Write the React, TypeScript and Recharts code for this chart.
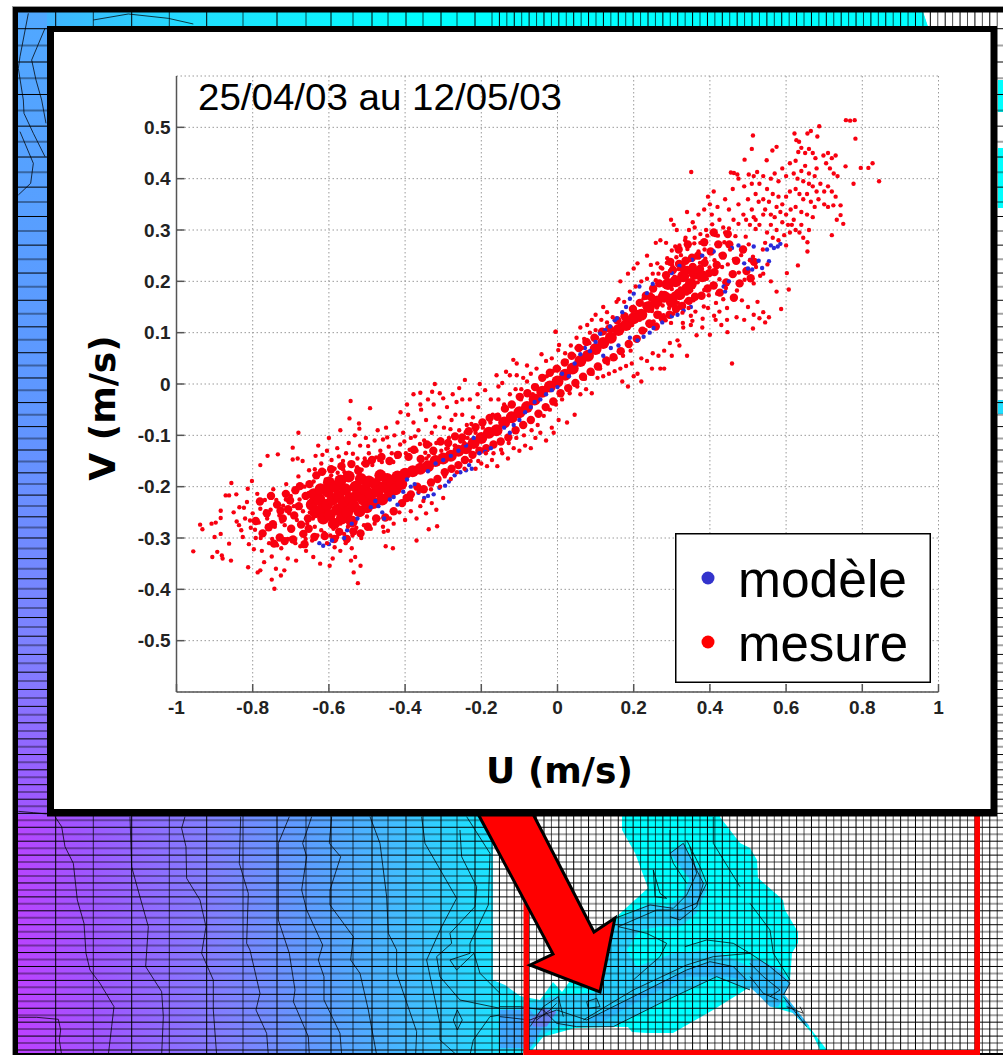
import { ScatterChart, Scatter, XAxis, YAxis, CartesianGrid, Legend } from "recharts";

type Pt = [number, number];

const uTicks = [-1, -0.8, -0.6, -0.4, -0.2, 0, 0.2, 0.4, 0.6, 0.8, 1];
const vTicks = [-0.5, -0.4, -0.3, -0.2, -0.1, 0, 0.1, 0.2, 0.3, 0.4, 0.5];

// [U, V] in m/s
const modeleRaw: Pt[] = [
  [-.625,-.31],[-.615,-.315],[-.6,-.312],[-.592,-.305],[-.56,-.3],[-.552,-.285],[-.54,-.272],[-.525,-.262],[-.49,-.24],[-.478,-.228],[-.47,-.238],[-.46,-.25],[-.455,-.262],[-.44,-.225],[-.43,-.22],[-.42,-.235],[-.405,-.21],[-.395,-.186],[-.385,-.2],[-.375,-.195],[-.365,-.212],[-.35,-.222],[-.34,-.218],[-.325,-.215],[-.31,-.202],[-.295,-.198],[-.285,-.19],[-.27,-.178],[-.255,-.172],[-.24,-.168],[-.232,-.158],[-.225,-.165],[-.205,-.135],[-.19,-.132],[-.175,-.125],[-.34,-.17],[-.32,-.155],[-.3,-.148],[-.28,-.14],[-.26,-.13],[-.24,-.12],[-.22,-.105],[-.14,-.085],[-.125,-.095],[-.115,-.08],[-.1,-.07],[-.085,-.055],[-.07,-.045],[-.06,-.035],[-.045,-.03],[-.03,-.02],[-.015,-.012],[0,-.006],[.012,.02],[.03,.015],[.045,.04],[.06,.058],[.072,.07],[.085,.064],[.1,.082],[.112,.098],[.125,.105],[.138,.112],[.15,.124],[.156,.128],[.17,.14],[.18,.15],[.19,.166],[.2,.176],[.215,.19],[.235,.177],[.25,.195],[.12,.055],[.14,.07],[.16,.075],[.19,.09],[.21,.085],[.226,.092],[.242,.1],[.252,.109],[.275,.12],[.3,.132],[.315,.135],[.331,.143],[.35,.15],[.3,.216],[.32,.23],[.353,.242],[.38,.25],[.41,.258],[.436,.19],[.44,.18],[.45,.2],[.458,.265],[.475,.27],[.49,.235],[.5,.225],[.506,.242],[.511,.223],[.515,.268],[.528,.24],[.537,.226],[.55,.262],[.555,.239],[.56,.27],[.568,.265],[.578,.268],[.585,.273],
];

// the parts of the cloud that read as solid red
const mesureCoeurRaw: Pt[] = [
  [-.645,-.235],[-.64,-.215],[-.635,-.25],[-.625,-.225],[-.622,-.205],[-.62,-.245],[-.615,-.262],[-.605,-.235],[-.603,-.21],[-.6,-.192],[-.598,-.255],[-.59,-.225],[-.587,-.272],[-.583,-.2],[-.578,-.245],[-.575,-.218],[-.57,-.188],[-.566,-.262],[-.562,-.232],[-.557,-.205],[-.552,-.25],[-.548,-.18],[-.545,-.222],[-.54,-.268],[-.535,-.238],[-.53,-.2],[-.527,-.218],[-.52,-.248],[-.516,-.185],[-.51,-.225],[-.505,-.205],[-.5,-.24],[-.495,-.19],[-.49,-.215],[-.483,-.232],[-.478,-.195],[-.472,-.21],[-.465,-.178],[-.46,-.225],[-.455,-.2],[-.447,-.185],[-.44,-.212],[-.435,-.19],[-.425,-.205],[-.42,-.18],[-.41,-.195],
  [-.4,-.175],[-.38,-.17],[-.36,-.165],[-.34,-.16],[-.32,-.15],[-.3,-.145],[-.28,-.14],[-.26,-.13],[-.24,-.125],[-.22,-.115],[-.2,-.105],[-.18,-.095],[-.16,-.09],[-.14,-.075],[-.12,-.065],[-.1,-.055],[-.08,-.045],[-.06,-.03],[-.04,-.015],[-.02,-.005],[0,.005],[.02,.018],[.04,.03],[.06,.045],[.08,.055],[.1,.068],[.12,.08],[.14,.09],[.16,.105],[.18,.115],[.2,.128],[.22,.135],[.24,.15],[.26,.16],[.28,.17],[.3,.16],[.32,.175],[.34,.185],[.36,.215],[.38,.21],[.29,.195],[.31,.2],[.33,.21],[.35,.195],
];

// dense but not solid, the dots still show through at the edges
const mesureDenseRaw: Pt[] = [
  [-.792,-.267],[-.781,-.229],[-.774,-.291],[-.763,-.252],[-.752,-.218],[-.747,-.273],[-.736,-.235],[-.729,-.299],[-.721,-.262],[-.713,-.214],[-.707,-.244],[-.699,-.282],[-.691,-.256],[-.688,-.207],[-.679,-.238],[-.673,-.274],[-.667,-.292],[-.661,-.218],[-.655,-.262],[-.651,-.195],[-.744,-.311],[-.716,-.306],[-.694,-.303],[-.676,-.199],[-.664,-.312],[-.702,-.227],[-.727,-.247],[-.758,-.279],
  [-.653,-.282],[-.638,-.298],[-.633,-.178],[-.618,-.171],[-.611,-.296],[-.594,-.166],[-.586,-.302],[-.573,-.288],[-.567,-.16],[-.553,-.302],[-.541,-.156],[-.536,-.287],[-.523,-.169],[-.517,-.291],[-.503,-.155],[-.498,-.278],[-.487,-.148],[-.476,-.262],[-.462,-.142],[-.452,-.26],[-.441,-.15],[-.43,-.248],[-.419,-.138],[-.408,-.232],[-.396,-.222],[-.391,-.142],
  [-.385,-.215],[-.377,-.128],[-.368,-.2],[-.359,-.146],[-.351,-.205],[-.343,-.118],[-.332,-.192],[-.326,-.13],[-.315,-.185],[-.307,-.112],[-.296,-.172],[-.287,-.115],[-.278,-.165],[-.269,-.102],[-.26,-.158],[-.25,-.104],[-.243,-.148],[-.233,-.092],[-.223,-.138],[-.215,-.084],[-.205,-.13],[-.197,-.075],[-.187,-.125],[-.178,-.066],[-.168,-.118],[-.158,-.064],[-.149,-.112],[-.138,-.048],[-.129,-.104],[-.12,-.04],[-.11,-.09],[-.099,-.025],[-.09,-.08],[-.079,-.018],[-.07,-.07],[-.059,-.006],[-.05,-.058],[-.04,.012],[-.031,-.045],[-.02,.022],[-.011,-.034],[-.002,.03],[.008,-.018],[.019,.042],[.028,-.008],[.037,.055],[.047,.002],[.056,.07],[.067,.014],[.076,.082],[.087,.024],[.097,.09],[.106,.034],[.117,.102],[.128,.046],[.136,.108],[.147,.052],[.157,.124],[.166,.064],[.176,.132],[.187,.078],[.198,.146],[.208,.088],
  [.216,.158],[.223,.104],[.232,.172],[.241,.118],[.251,.186],[.258,.112],[.267,.196],[.276,.128],[.285,.212],[.294,.135],[.303,.222],[.311,.146],[.319,.234],[.327,.152],[.336,.24],[.345,.162],[.353,.246],[.361,.17],[.369,.25],[.378,.172],[.386,.236],[.394,.186],[.402,.258],[.41,.192],[.418,.232],[.426,.178],[.434,.25],[.443,.198],[.451,.272],[.46,.214],[.469,.24],[.478,.196],[.487,.262],[.496,.22],[.507,.206],[.516,.238],[.398,.216],[.412,.218],[.374,.224],[.355,.228],[.34,.222],[.326,.228],[.308,.172],[.29,.168],[.275,.172],[.262,.135],[.247,.168],[.233,.152],
  [.463,.168],[.342,.272],[.318,.262],[.296,.238],[.447,.292],[.422,.272],[.385,.276],[.41,.295],
];

const mesureRaw: Pt[] = [
  // tail, far left
  [-.956,-.326],[-.938,-.274],[-.932,-.283],[-.908,-.272],[-.897,-.27],[-.884,-.261],[-.884,-.247],[-.856,-.193],[-.871,-.217],[-.862,-.217],[-.843,-.215],[-.906,-.337],[-.893,-.327],[-.881,-.334],[-.879,-.34],[-.857,-.344],[-.884,-.292],[-.9,-.298],[-.862,-.311],[-.812,-.357],[-.787,-.367],[-.78,-.363],[-.743,-.399],[-.75,-.381],[-.739,-.36],[-.726,-.373],[-.717,-.363],[-.686,-.344],[-.708,-.34],[-.77,-.347],[-.524,-.388],[-.535,-.367],[-.517,-.354],[-.542,-.344],[-.531,-.337],[-.598,-.354],[-.623,-.35],[-.59,-.34],[-.641,-.337],[-.543,-.033],[-.492,-.047],[-.546,-.067],[-.521,-.077],[-.52,-.087],[-.68,-.095],[-.734,-.137],[-.761,-.14],[-.78,-.158],[-.695,-.124],[-.695,-.147],[-.682,-.145],[-.669,-.15],[-.802,-.189],[-.813,-.204],[-.37,-.305],[-.316,-.277],[-.338,-.283],[-.432,-.32],[-.451,-.316],[-.456,-.288],[-.445,-.286],
  [-.85,-.25],[-.842,-.268],[-.835,-.24],[-.83,-.285],[-.826,-.298],[-.82,-.262],[-.815,-.23],[-.81,-.312],[-.805,-.28],[-.8,-.252],[-.797,-.322],[-.792,-.3],[-.788,-.214],[-.784,-.27],[-.78,-.243],[-.776,-.325],[-.771,-.288],[-.768,-.226],[-.762,-.262],[-.757,-.31],[-.753,-.245],[-.75,-.336],[-.746,-.205],[-.742,-.278],[-.738,-.226],[-.733,-.298],[-.73,-.256],[-.725,-.32],[-.72,-.237],[-.716,-.275],[-.712,-.195],[-.708,-.302],[-.704,-.252],[-.7,-.218],[-.697,-.285],[-.692,-.238],[-.688,-.31],[-.684,-.265],[-.68,-.18],[-.677,-.225],[-.672,-.292],[-.668,-.248],[-.664,-.2],[-.66,-.325],[-.657,-.272],[-.652,-.168],[-.648,-.228],[-.644,-.305],[-.64,-.19],[-.636,-.255],
  [-.836,-.275],[-.823,-.241],[-.807,-.266],[-.794,-.284],[-.779,-.3],[-.766,-.248],[-.749,-.302],[-.736,-.314],[-.724,-.268],[-.713,-.225],[-.699,-.301],[-.689,-.208],[-.675,-.316],[-.661,-.302],[-.653,-.212],[-.637,-.166],[-.619,-.172],[-.608,-.186],[-.594,-.178],[-.577,-.173],[-.563,-.166],[-.544,-.156],[-.526,-.162],[-.506,-.145],[-.486,-.158],[-.468,-.148],[-.444,-.152],[-.422,-.142],
  // main blob fringe
  [-.65,-.25],[-.642,-.262],[-.637,-.278],[-.63,-.295],[-.62,-.285],[-.612,-.29],[-.605,-.31],[-.596,-.295],[-.588,-.282],[-.578,-.298],[-.57,-.272],[-.56,-.292],[-.55,-.278],[-.538,-.295],[-.528,-.28],[-.515,-.3],[-.508,-.275],[-.5,-.258],[-.49,-.282],[-.48,-.272],[-.47,-.262],[-.458,-.278],[-.44,-.262],[-.43,-.272],[-.415,-.25],[-.4,-.265],[-.385,-.248],[-.37,-.262],[-.36,-.238],[-.345,-.252],[-.33,-.232],[-.318,-.245],[-.3,-.222],[-.585,-.318],[-.57,-.325],[-.556,-.31],[-.54,-.32],
  // upper scatter of the blob
  [-.635,-.14],[-.628,-.12],[-.62,-.155],[-.612,-.17],[-.605,-.13],[-.6,-.105],[-.593,-.148],[-.585,-.165],[-.578,-.125],[-.57,-.09],[-.563,-.15],[-.555,-.135],[-.548,-.115],[-.54,-.158],[-.532,-.1],[-.525,-.145],[-.518,-.12],[-.51,-.155],[-.503,-.105],[-.495,-.135],[-.488,-.15],[-.48,-.11],[-.472,-.09],[-.465,-.13],[-.458,-.108],[-.45,-.085],[-.443,-.122],[-.435,-.135],[-.428,-.1],[-.42,-.075],[-.413,-.118],[-.405,-.095],[-.398,-.135],[-.392,-.06],[-.385,-.105],[-.378,-.075],[-.37,-.13],[-.365,-.09],[-.358,-.05],[-.35,-.11],[-.345,-.07],[-.338,-.14],[-.33,-.095],[-.325,-.04],[-.318,-.115],[-.31,-.065],[-.305,-.13],[-.298,-.085],[-.29,-.045],[-.285,-.105],[-.278,-.07],[-.27,-.12],[-.265,-.035],[-.258,-.09],[-.25,-.06],[-.245,-.115],[-.238,-.08],[-.23,-.03],[-.222,-.065],[-.215,-.095],[-.208,-.045],
  [-.617,-.138],[-.597,-.163],[-.574,-.141],[-.559,-.172],[-.537,-.136],[-.514,-.167],[-.497,-.121],[-.476,-.143],[-.461,-.152],[-.447,-.104],[-.431,-.152],[-.416,-.136],[-.402,-.112],[-.388,-.128],[-.374,-.102],[-.361,-.117],[-.347,-.134],[-.334,-.118],[-.321,-.083],[-.307,-.108],[-.292,-.126],[-.281,-.088],[-.268,-.06],[-.254,-.112],[-.241,-.094],[-.226,-.078],
  [-.322,0],[-.243,.008],[-.204,0],[-.378,-.02],[-.36,-.017],[-.329,-.015],[-.309,-.018],[-.258,-.008],[-.116,.047],[-.107,.04],[-.16,.017],[-.135,.024],[-.125,.017],[-.107,.017],[-.08,.036],[-.042,.058],[-.005,.102],[.004,.076],[.002,.066],[-.36,-.04],[-.34,-.03],[-.395,-.04],[-.412,-.055],[-.3,-.028],[-.275,-.02],[-.25,-.03],[-.21,-.02],[-.19,-.012],[-.175,-.03],[-.155,-.005],[-.145,.002],[-.09,.012],[-.07,.02],[-.055,.03],[-.03,.045],[-.015,.05],
  // band
  [-.384,-.225],[-.364,-.21],[-.352,-.228],[-.344,-.145],[-.332,-.205],[-.324,-.135],[-.308,-.2],[-.304,-.14],[-.296,-.18],[-.288,-.125],[-.28,-.185],[-.268,-.12],[-.264,-.172],[-.256,-.11],[-.244,-.165],[-.236,-.105],[-.228,-.15],[-.216,-.09],[-.208,-.15],[-.196,-.085],[-.188,-.135],[-.176,-.075],[-.168,-.135],[-.156,-.06],[-.148,-.128],[-.136,-.05],[-.128,-.115],[-.116,-.04],[-.108,-.105],[-.096,-.03],[-.088,-.1],[-.076,-.015],[-.068,-.09],[-.052,-.08],[-.036,-.062],[-.028,.015],[-.02,-.05],[-.012,.025],[-.004,-.04],[.004,.03],[.012,-.03],[.024,.045],[.032,-.018],[.044,.055],[.052,-.005],[.064,.07],[.072,.01],[.084,.08],[.092,.02],[.104,.09],[.112,.03],[.124,.1],[.132,.04],[.144,.105],[.152,.05],[.164,.115],[.172,.055],[.184,.125],[.192,.065],[.196,.115],
  [-.215,-.165],[-.2,-.155],[-.185,-.16],[-.172,-.148],[-.158,-.16],[-.145,-.135],[-.13,-.145],[-.115,-.125],[-.1,-.13],[-.085,-.12],[-.07,-.125],[-.058,-.105],[-.045,-.095],[-.03,-.11],[-.015,-.085],[-.01,-.095],[.003,-.07],[.025,-.075],[.045,-.06],[-.17,-.06],[-.155,-.03],[-.14,-.04],[-.125,-.02],[-.11,-.01],[-.095,-.01],[-.08,.005],[-.065,-.02],
  [.06,-.02],[.075,-.01],[.09,-.018],[.105,.012],[.12,.015],[.135,.02],[.15,.025],[.165,.03],[.18,.035],[.195,.04],[.21,.02],[.22,.05],[.235,.045],[.25,.06],[.265,.055],[.17,.005],[.185,-.005],[.2,.015],[.22,.005],[.248,.03],[.27,.03],[.05,.07],[.07,.088],[.085,.1],[.1,.105],[.05,.09],[.035,.075],[.02,.06],[.115,.125],[.13,.12],[.145,.13],[.06,.11],[.078,.115],
  // middle, round the 0.2/0.2 mark
  [.263,.168],[.207,.141],[.289,.196],[.242,.113],[.318,.224],[.276,.153],[.351,.182],[.226,.167],[.304,.137],[.379,.216],[.258,.202],[.337,.161],[.412,.241],[.284,.124],[.368,.198],[.231,.105],[.397,.173],[.312,.247],[.347,.218],[.425,.204],[.271,.227],[.386,.262],[.329,.119],[.447,.233],[.295,.172],[.362,.141],[.416,.158],[.248,.142],[.482,.251],[.341,.263],[.399,.227],[.28,.191],[.459,.168],[.322,.186],[.374,.236],[.438,.276],[.216,.125],[.307,.209],[.354,.123],[.491,.203],[.255,.184],[.406,.195],[.333,.238],[.467,.288],[.293,.148],[.384,.151],[.521,.228],[.268,.138],[.442,.187],[.359,.274],[.316,.158],[.502,.272],[.393,.289],[.237,.156],[.428,.252],[.344,.148],[.476,.217],[.301,.231],[.372,.172],[.539,.262],[.283,.211],[.411,.133],[.326,.204],[.453,.262],[.252,.122],[.388,.244],[.515,.196],[.336,.285],[.298,.119],[.421,.289],[.365,.219],[.471,.182],[.273,.178],[.348,.197],[.403,.259],[.532,.211],[.309,.268],[.445,.148],[.381,.127],[.494,.287],[.261,.149],[.324,.251],[.432,.228],[.357,.163],[.406,.311],[.287,.236],[.463,.243],[.375,.292],[.513,.248],[.339,.176],[.419,.176],[.31,.143],[.551,.233],[.392,.205],[.278,.134],[.484,.163],[.346,.241],[.45,.303],[.52,.302],[.37,.258],[.3,.185],[.435,.165],[.328,.139],[.408,.217],[.265,.215],[.36,.305],[.475,.312],[.315,.172],[.395,.148],[.505,.241],[.245,.175],[.35,.133],[.44,.295],[.385,.183],[.29,.165],[.425,.141],
  [.175,.16],[.19,.18],[.205,.19],[.22,.2],[.235,.205],[.25,.215],[.262,.235],[.275,.225],[.288,.245],[.3,.26],[.285,.275],[.27,.28],[.313,.3],[.305,.31],[.298,.32],[.32,.27],[.335,.28],[.345,.3],[.36,.285],[.375,.275],[.39,.3],[.405,.33],[.415,.29],[.425,.32],[.435,.305],[.355,.315],[.34,.335],[.37,.33],[.385,.34],[.4,.35],[.395,.365],[.41,.375],[.42,.345],[.44,.36],[.45,.34],[.462,.32],[.475,.35],[.488,.33],[.5,.36],[.46,.38],[.475,.4],[.49,.385],[.51,.34],[.52,.32],[.528,.355],[.455,.412],[.463,.411],[.472,.408],
  [.12,.15],[.1,.135],[.16,.165],[.2,.225],[.21,.235],[.235,.25],[.258,.275],[.13,.14],[.09,.125],[.165,.2],[.155,.16],[.185,.215],[.245,.232],[.295,.22],
  // far upper right
  [.757,.514],[.768,.513],[.78,.514],[.687,.502],[.782,.478],[.622,.488],[.656,.488],[.665,.493],[.682,.482],[.627,.475],[.634,.472],[.827,.43],[.816,.421],[.796,.421],[.756,.424],[.844,.395],[.777,.39],[.72,.29],[.75,.312],[.733,.32],[.743,.329],[.743,.348],[.724,.348],[.513,.484],[.51,.458],[.491,.437],[.351,.413],[.564,.455],[.575,.462],[.549,.436],[.458,.04],[.34,.055],[.446,.101],[.4,.096],[.513,.108],[-.005,.102],[.656,.276],[.656,.258],[.631,.231],[.587,.146],[.607,.184],[.602,.216],
  [.502,.408],[.515,.405],[.524,.413],[.51,.39],[.53,.39],[.54,.405],[.55,.38],[.56,.4],[.57,.41],[.58,.395],[.59,.42],[.6,.405],[.61,.43],[.62,.41],[.625,.435],[.632,.452],[.64,.46],[.65,.45],[.66,.458],[.67,.45],[.677,.44],[.68,.42],[.675,.405],[.66,.41],[.65,.425],[.64,.415],[.63,.4],[.645,.395],[.66,.39],[.67,.385],[.68,.375],[.69,.39],[.7,.375],[.71,.385],[.72,.375],[.73,.365],[.725,.41],[.715,.42],[.705,.43],[.698,.445],[.71,.45],[.72,.44],[.73,.445],[.735,.405],
  [.52,.37],[.54,.36],[.545,.34],[.555,.355],[.565,.37],[.58,.365],[.59,.35],[.6,.365],[.61,.375],[.625,.38],[.635,.37],[.645,.36],[.655,.37],[.665,.355],[.675,.345],[.685,.36],[.7,.35],[.71,.345],[.56,.33],[.57,.325],[.585,.335],[.6,.33],[.612,.34],[.625,.345],[.64,.335],[.655,.33],[.67,.325],[.66,.3],[.64,.31],[.62,.32],[.605,.31],[.59,.315],[.575,.3],[.56,.31],[.55,.295],[.53,.31],[.515,.325],[.505,.31],[.495,.32],[.545,.275],[.565,.285],[.58,.28],[.595,.29],[.61,.295],[.625,.3],[.635,.295],[.645,.285],[.6,.27],[.615,.31],[.54,.33],[.575,.345],
  [.56,.2],[.575,.18],[.54,.215],[.525,.16],[.54,.14],[.555,.13],[.5,.15],[.47,.13],[.49,.125],[.515,.135],[.53,.128],[.545,.12],[.43,.115],[.415,.125],[.445,.125],[.38,.11],[.365,.095],[.35,.115],[.33,.11],[.315,.085],[.295,.08],[.28,.065],[.32,.075],[.3,.055],[.28,.03],
];

const modele = modeleRaw.map(([u, v]) => ({ u, v }));
const mesureCoeur = mesureCoeurRaw.map(([u, v]) => ({ u, v }));
const mesureDense = mesureDenseRaw.map(([u, v]) => ({ u, v }));
const mesure = mesureRaw.map(([u, v]) => ({ u, v }));

// background mesh, not chart data
const meshX = [55.7, 93.3, 131.7, 169.3, 206.7, 243, 277, 306, 331, 353, 372, 388, 406, 423, 441, 457, 475, 492];
for (let x = 499.4; x < 1003; x += 7.43) meshX.push(x);
const meshY: number[] = [];
for (let y = 1050; y > 14; y -= y > 816 ? 6.96 : 7 + ((816 - y) / 790) * 10) meshY.push(y);

const contoursLeft = [
  "165,20 185,50 195,110 220,160 232,270 252,340 258,430 270,480 300,520 342,590 335,650 325,735",
  "390,20 395,170 410,225 445,350 437,470 485,545 490,620 485,735",
  "555,20 545,55 558,110 560,205 600,270 618,350 605,430 640,510 640,600 650,735",
  "722,20 718,160 745,250 740,400 750,420 780,550 768,600 800,670 805,735",
  "55,622 110,622 175,628 182,660 178,690 185,735",
  "55,4 100,8 140,12",
];
const contoursMid = [
  "118,20 85,100 85,330 118,430 135,540 130,575 175,680 178,735",
  "185,20 158,100 170,140 155,240 170,300 218,405 205,450 222,500 222,570 270,670 275,735",
  "245,20 238,100 272,140 240,240 240,285 310,380 302,450 330,490 355,600 380,735",
  "360,20 390,100 410,260 415,370 440,420 440,490 500,665 497,735",
  "515,20 525,100 620,265 575,350 530,450 570,640 570,690 620,735",
  "630,60 635,140 680,230 675,290 600,370 605,400 560,440 570,500 630,570 750,595",
  "650,20 720,130 715,285 660,400 660,430 600,450 620,480 672,430 690,490 750,550",
  "622,600 610,630 622,660 637,630 622,600",
  "660,735 670,690 720,620 750,615",
];
const contoursBlob = [
  "0,590 60,590 130,600 170,640 230,650 340,650 480,580 650,500 750,540",
  "0,620 90,630 170,600 260,630 400,560 560,480 630,455 700,470 740,510",
  "250,630 400,540 560,465 640,440 750,430",
  "345,325 450,285 520,295 560,255 590,190 570,110",
  "355,350 470,300 540,300 590,280 620,220 600,170 560,90",
  "510,130 550,100 570,140 610,220 590,290 540,330 510,320",
  "400,510 480,440 500,400 440,370 355,350",
  "555,410 620,390 700,400 750,430",
  "260,575 290,565 300,590 265,595 260,575",
  "460,180 480,250 500,265 465,260 460,180",
  "510,60 510,130 520,160 560,220",
  "90,650 130,590 175,560 190,620",
  "110,630 150,600 170,580",
  "640,20 640,100 720,230",
];
const contoursRight = [
  "0,280 60,360 70,430 120,510",
  "0,430 60,470 120,520 100,555",
  "0,460 40,500 90,540 60,560",
  "0,500 40,550 85,570",
  "100,560 170,650",
  "110,590 160,610 150,590",
];

function MeshBackground() {
  return (
    <svg width={1003} height={1055} style={{ position: "absolute", left: 0, top: 0 }}>
      <defs>
        <linearGradient id="bathy" gradientUnits="userSpaceOnUse" x1={0} y1={1050} x2={590} y2={990}>
          <stop offset="0" stopColor="#c43cff" />
          <stop offset="0.17" stopColor="#a055ff" />
          <stop offset="0.39" stopColor="#8080ff" />
          <stop offset="0.56" stopColor="#5aa0ff" />
          <stop offset="0.71" stopColor="#40bfff" />
          <stop offset="0.83" stopColor="#20dfff" />
          <stop offset="0.95" stopColor="#00ffff" />
        </linearGradient>
        <linearGradient id="leftStrip" gradientUnits="userSpaceOnUse" x1={0} y1={12} x2={0} y2={816}>
          <stop offset="0" stopColor="#50a8ff" />
          <stop offset="0.5" stopColor="#5f96ff" />
          <stop offset="0.8" stopColor="#7f80ff" />
          <stop offset="1" stopColor="#a055ff" />
        </linearGradient>
        <linearGradient id="topStrip" gradientUnits="userSpaceOnUse" x1={47} y1={0} x2={420} y2={0}>
          <stop offset="0" stopColor="#40b4ff" />
          <stop offset="0.4" stopColor="#20dfff" />
          <stop offset="1" stopColor="#00ffff" />
        </linearGradient>
      </defs>
      <rect x={0} y={0} width={1003} height={1055} fill="#fff" />
      <polygon
        fill="url(#bathy)"
        points="18,12 923,12 928,27 720,817 740,843 750,848 757,860 758,878 783,900 785,910 798,932 798,943 792,953 790,980 783,993 827,1050 820,1050 812,1033 793,1013 772,1007 750,987 713,1010 673,1033 647,1033 632,1032 628,1027 610,1027 575,1028 543,1037 530,1053 18,1053"
      />
      <rect x={18} y={12} width={29} height={804} fill="url(#leftStrip)" />
      <polygon points="47,12 923,12 928,27 47,27" fill="url(#topStrip)" />
      <polygon fill="#fff" points="493,816 622,816 622,830 635,853 648,888 615,918 562,992 553,982 540,1000 520,996 505,985 493,980" />
      <rect x={998} y={80} width={5} height={32} fill="#00ffff" />
      <rect x={998} y={148} width={5} height={60} fill="#00ffff" />
      <rect x={998} y={400} width={5} height={14} fill="#20dfff" />
      <g transform="translate(500,810) scale(0.3333)">
        <polygon fill="#28d0ff" points="330,400 350,330 450,280 500,290 550,260 570,200 560,120 600,180 620,240 590,310 540,350 480,350 420,360 380,420 410,470 520,430 640,420 750,470 750,540 650,500 480,580 340,650 220,650 170,650 120,680 90,715 0,715 0,600 60,590 150,560 300,545" />
        <polygon fill="#2cb8ff" points="260,630 400,560 560,480 630,455 700,470 740,510 680,500 560,500 420,570 300,640" />
        <polygon fill="#30c0ff" points="510,130 550,100 570,140 610,220 590,290 540,330 510,320 560,270 580,220 540,170" />
        <polygon fill="#40a8ff" points="0,600 90,600 130,650 90,715 0,715" />
        <polygon fill="#6a80f0" points="90,630 130,595 170,605 140,650 100,650" />
      </g>
      <g transform="translate(750,810) scale(0.3333)">
        <polygon fill="#30c0ff" points="0,450 30,450 90,480 120,520 100,560 85,590 60,590 20,550 0,530" />
        <polygon fill="#30c0ff" points="100,550 180,650 160,640 110,590" />
      </g>

      {meshY.map((y, i) => (
        <line key={y} x1={18} x2={1003} y1={y} y2={y} stroke="#000" strokeWidth={i % 2 ? 2 : 1} strokeOpacity={i % 2 ? 0.36 : 1} />
      ))}
      {meshX.map((x, i) => (
        <line key={x} x1={x} x2={x} y1={12} y2={1053} stroke="#000" strokeWidth={1} strokeOpacity={i % 2 ? 0.7 : 1} />
      ))}

      <g fill="none" stroke="#000" strokeOpacity={0.75}>
        <g transform="translate(0,810) scale(0.3333)" strokeWidth={3}>
          {contoursLeft.map((p) => <polyline key={p} points={p} />)}
        </g>
        <g transform="translate(250,810) scale(0.3333)" strokeWidth={3}>
          {contoursMid.map((p) => <polyline key={p} points={p} />)}
        </g>
        <g transform="translate(500,810) scale(0.3333)" strokeWidth={3}>
          {contoursBlob.map((p) => <polyline key={p} points={p} />)}
        </g>
        <g transform="translate(750,810) scale(0.3333)" strokeWidth={3}>
          {contoursRight.map((p) => <polyline key={p} points={p} />)}
        </g>
        <g transform="scale(0.3333)" strokeWidth={3}>
          <polyline points="85,40 60,170 55,205 70,300 72,340 100,400 135,470" />
          <polyline points="135,85 95,180 108,240 125,300 138,370" />
          <polyline points="60,395 100,490 92,550 55,585" />
          <polyline points="280,60 385,42 505,55 580,72" />
        </g>
      </g>

      <rect x={523.5} y={816} width={5.5} height={239} fill="#ff0000" />
      <rect x={974.5} y={816} width={5.5} height={239} fill="#ff0000" />
      <rect x={523.5} y={1050} width={456.5} height={5} fill="#ff0000" />

      <polygon
        points="477,812 553,954 530,965 600,992 615,918 594,932 532,812"
        fill="#ff0000"
        stroke="#000"
        strokeWidth={3}
      />

      <rect x={12} y={6} width={991} height={1} fill="#999" />
      <rect x={12} y={6} width={1} height={1049} fill="#999" />
      <rect x={13} y={7} width={990} height={5.5} fill="#000" />
      <rect x={13} y={7} width={5} height={1048} fill="#000" />
      <rect x={13} y={1053} width={510} height={2} fill="#000" />
      <rect x={980} y={1053} width={23} height={2} fill="#000" />

      <rect x={47} y={26} width={950} height={790.5} fill="#000" />
      <rect x={54} y={32} width={936.5} height={777} fill="#fff" />
    </svg>
  );
}

function LegendBox() {
  return (
    <svg width={256} height={150} style={{ display: "block" }}>
      <rect x={0.75} y={0.75} width={254.5} height={148.5} fill="#fff" stroke="#000" strokeWidth={1.5} />
      <circle cx={33} cy={45} r={6.5} fill="#3333cc" />
      <circle cx={33} cy={109} r={6.5} fill="#ff0000" />
      <text x={63} y={64} fontFamily="Liberation Sans" fontSize={52} textLength={169} lengthAdjust="spacingAndGlyphs" fill="#000">modèle</text>
      <text x={63} y={128} fontFamily="Liberation Sans" fontSize={52} textLength={170} lengthAdjust="spacingAndGlyphs" fill="#000">mesure</text>
    </svg>
  );
}

const tickStyle = { fontFamily: "Liberation Sans", fontWeight: 700, fontSize: 19, fill: "#222" };
const labelStyle = { fontFamily: "DejaVu Sans", fontWeight: 700, fontSize: 36, fill: "#000" };

const Dot = (props: any) => <circle cx={props.cx} cy={props.cy} r={2.2} fill={props.fill} />;
const DenseDot = (props: any) => <circle cx={props.cx} cy={props.cy} r={4.2} fill={props.fill} />;
const CoreDot = (props: any) => <circle cx={props.cx} cy={props.cy} r={6} fill={props.fill} />;

export default function App() {
  return (
    <div style={{ position: "absolute", left: 0, top: 0, width: 1003, height: 1055, overflow: "hidden" }}>
      <MeshBackground />
      <div style={{ position: "absolute", left: 0, top: 0 }}>
        <ScatterChart width={1003} height={1055} margin={{ top: 76, right: 64.5, bottom: 273, left: 116.5 }}>
          <CartesianGrid stroke="#9a9a9a" strokeDasharray="1.5 2.5" />
          <XAxis type="number" dataKey="u" domain={[-1, 1]} ticks={uTicks} height={90} stroke="#555" strokeWidth={1.5} tickSize={-8} tickMargin={17} tick={tickStyle} interval={0} />
          <XAxis type="number" xAxisId="top" orientation="top" domain={[-1, 1]} ticks={uTicks} height={0} stroke="#999" strokeWidth={2} tickSize={-8} tickFormatter={() => ""} interval={0} />
          <YAxis type="number" dataKey="v" domain={[-0.6, 0.6]} ticks={vTicks} width={60} stroke="#555" strokeWidth={1.5} tickSize={-8} tickMargin={14} tick={tickStyle} interval={0} />
          <YAxis type="number" yAxisId="right" orientation="right" domain={[-0.6, 0.6]} ticks={vTicks} width={0} stroke="#999" strokeWidth={2} tickSize={-8} tickFormatter={() => ""} interval={0} />
          <Scatter name="mesure (coeur)" data={mesureCoeur} fill="#f80010" shape={CoreDot} isAnimationActive={false} />
          <Scatter name="mesure (dense)" data={mesureDense} fill="#f80010" shape={DenseDot} isAnimationActive={false} />
          <Scatter name="modèle" data={modele} fill="#2a2ad8" shape={Dot} isAnimationActive={false} />
          <Scatter name="mesure" data={mesure} fill="#f80010" shape={Dot} isAnimationActive={false} />
          <Legend
            layout="vertical"
            align="center"
            verticalAlign="middle"
            wrapperStyle={{ left: 675, top: 533, width: 256, height: 150 }}
            content={() => <LegendBox />}
          />
          <text x={198} y={110} fontFamily="Liberation Sans" fontSize={37} textLength={364} lengthAdjust="spacingAndGlyphs" fill="#000">25/04/03 au 12/05/03</text>
          <text x={559.5} y={783} textAnchor="middle" {...labelStyle}>U (m/s)</text>
          <text x={115} y={408} textAnchor="middle" transform="rotate(-90 115 408)" {...labelStyle}>V (m/s)</text>
        </ScatterChart>
      </div>
    </div>
  );
}
